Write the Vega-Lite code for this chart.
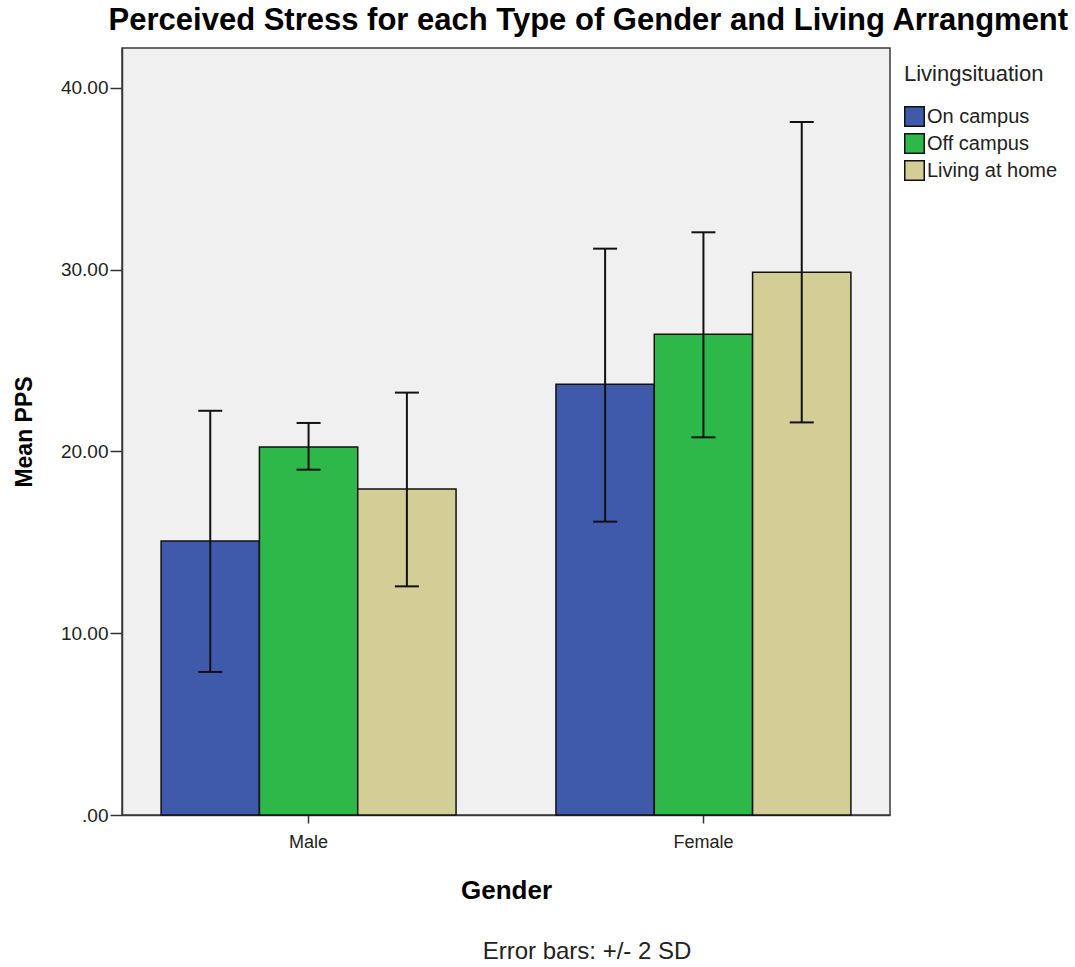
{
  "$schema": "https://vega.github.io/schema/vega-lite/v6.json",
  "background": "white",
  "padding": {"left": 12, "top": 5, "right": 5, "bottom": 5},
  "title": {"text": "Perceived Stress for each Type of Gender and Living Arrangment", "font": "Liberation Sans", "fontSize": 31, "fontWeight": "bold", "color": "#000000", "anchor": "middle", "frame": "bounds", "offset": 10, "dx": 45},
  "config": {
    "font": "Liberation Sans",
    "view": {"fill": "#F0F0F0", "stroke": "#3a3a3a", "strokeWidth": 1.5},
    "concat": {"spacing": 0}
  },
  "vconcat": [
    {
      "width": 768,
      "height": 767,
      "title": {"text": "Error bars:  +/- 2 SD", "orient": "bottom", "font": "Liberation Sans", "fontSize": 24, "fontWeight": "normal", "color": "#222222", "anchor": "middle", "offset": 37, "dx": 81},
      "data": {
        "values": [
          {"Gender": "Male", "Living": "On campus", "mean": 15.08, "lo": 7.87, "hi": 22.24},
          {"Gender": "Male", "Living": "Off campus", "mean": 20.25, "lo": 19.0, "hi": 21.57},
          {"Gender": "Male", "Living": "Living at home", "mean": 17.94, "lo": 12.58, "hi": 23.24},
          {"Gender": "Female", "Living": "On campus", "mean": 23.7, "lo": 16.14, "hi": 31.16},
          {"Gender": "Female", "Living": "Off campus", "mean": 26.45, "lo": 20.78, "hi": 32.06},
          {"Gender": "Female", "Living": "Living at home", "mean": 29.86, "lo": 21.6, "hi": 38.13}
        ]
      },
      "encoding": {
        "x": {
          "field": "Gender", "type": "nominal", "sort": ["Male", "Female"],
          "scale": {"paddingInner": 0.253, "paddingOuter": 0.099},
          "axis": {"title": "Gender", "titleFontSize": 26, "titleFontWeight": "bold", "titleColor": "#000000", "titlePadding": 26, "labelAngle": 0, "labelFontSize": 18, "labelColor": "#222222", "labelPadding": 10, "tickSize": 8, "tickColor": "#333333", "tickWidth": 1.5, "domainColor": "#3a3a3a", "domainWidth": 1.5}
        },
        "xOffset": {
          "field": "Living", "type": "nominal", "sort": ["On campus", "Off campus", "Living at home"],
          "scale": {"paddingInner": 0, "paddingOuter": 0}
        }
      },
      "layer": [
        {
          "mark": {"type": "bar", "stroke": "#111111", "strokeWidth": 1.5},
          "encoding": {
            "y": {
              "field": "mean", "type": "quantitative",
              "scale": {"domain": [0, 42.2], "nice": false, "zero": true},
              "axis": {"title": "Mean PPS", "titleFontSize": 23, "titleFontWeight": "bold", "titleColor": "#000000", "titlePadding": 24, "values": [0, 10, 20, 30, 40], "labelExpr": "datum.value == 0 ? '.00' : format(datum.value, '.2f')", "labelFontSize": 19, "labelColor": "#222222", "labelPadding": 2, "tickSize": 12, "tickColor": "#333333", "tickWidth": 1.5, "grid": false, "domainColor": "#3a3a3a", "domainWidth": 1.5}
            },
            "color": {
              "field": "Living", "type": "nominal", "sort": ["On campus", "Off campus", "Living at home"],
              "scale": {"domain": ["On campus", "Off campus", "Living at home"], "range": ["#3F5AAB", "#2FB84A", "#D3CD96"]},
              "legend": {"title": "Livingsituation", "orient": "right", "offset": -3, "titleFontSize": 22, "titleFontWeight": "normal", "titleColor": "#222222", "titlePadding": 20, "labelFontSize": 20, "labelColor": "#222222", "labelOffset": 2, "symbolType": "square", "symbolSize": 380, "symbolStrokeColor": "#111111", "symbolStrokeWidth": 1.5, "symbolOpacity": 1, "rowPadding": 0, "padding": 16}
            }
          }
        },
        {
          "mark": {"type": "rule", "color": "#111111", "strokeWidth": 2},
          "encoding": {
            "y": {"field": "lo", "type": "quantitative"},
            "y2": {"field": "hi"}
          }
        },
        {
          "mark": {"type": "tick", "color": "#111111", "size": 24, "thickness": 2, "opacity": 1},
          "encoding": {"y": {"field": "lo", "type": "quantitative"}}
        },
        {
          "mark": {"type": "tick", "color": "#111111", "size": 24, "thickness": 2, "opacity": 1},
          "encoding": {"y": {"field": "hi", "type": "quantitative"}}
        }
      ]
    }
  ]
}
